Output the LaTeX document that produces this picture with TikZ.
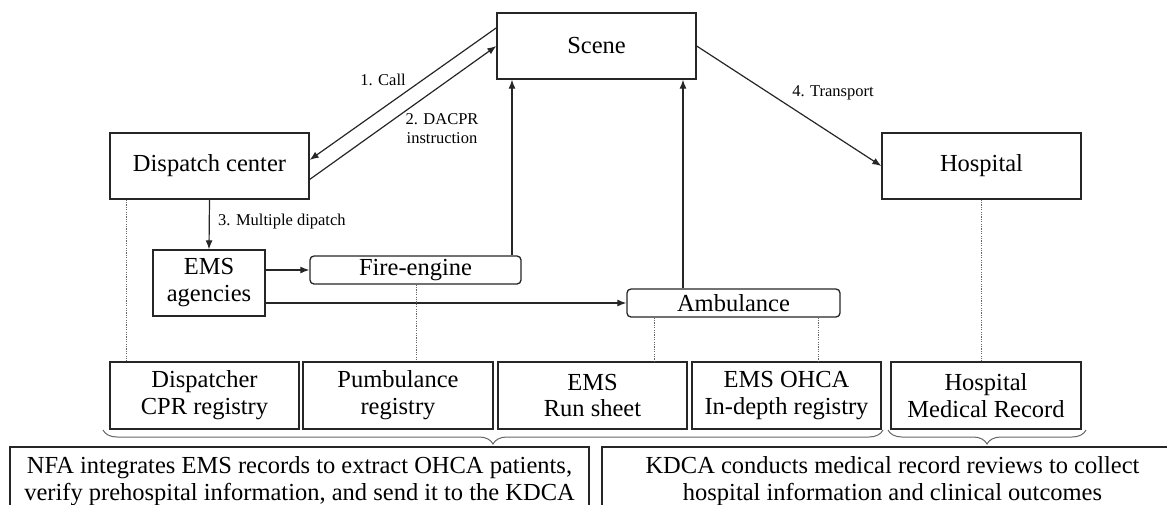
\documentclass[tikz,border=0pt]{standalone}
\usepackage{fontspec}
\setmainfont{Liberation Serif}
\usetikzlibrary{arrows.meta,calc,decorations.pathreplacing}
\begin{document}
\begin{tikzpicture}[x=1pt,y=-1pt,
  box/.style={draw=black!85, line width=1.3pt, fill=white, inner sep=0pt, align=center, font=\fontsize{24.5}{27}\selectfont},
  rbox/.style={box, rounded corners=4pt},
  arr/.style={line width=1.2pt, draw=black!85, -{Latex[length=9pt,width=7pt]}},
  dots/.style={line width=0.8pt, draw=black!60, dash pattern=on 1.2pt off 1.2pt},
  lbl/.style={font=\fontsize{16.5}{19}\selectfont, align=center, inner sep=0pt},
  brc/.style={draw=black!60, line width=1pt, decorate, decoration={brace, mirror, amplitude=14pt}},
]
\useasboundingbox (0,0) rectangle (1167,504);
\clip (0,0) rectangle (1167,504);

% main boxes
\node[box, minimum width=199pt, minimum height=66pt] (scene) at (596.5,46) {Scene};
\node[box, minimum width=199pt, minimum height=66pt] (dispatch) at (209.5,166) {Dispatch center};
\node[box, minimum width=199pt, minimum height=66pt] (hospital) at (981.5,166) {Hospital};
\node[box, minimum width=112pt, minimum height=66pt] (ems) at (209,283) {EMS\\agencies};
\node[rbox, minimum width=211pt, minimum height=28pt] (fire) at (415.5,270) {Fire-engine};
\node[rbox, minimum width=213pt, minimum height=28pt] (amb) at (733.5,303) {Ambulance};

% registries
\node[box, minimum width=189pt, minimum height=67pt] (disp) at (204.5,395.5) {Dispatcher\\CPR registry};
\node[box, minimum width=190pt, minimum height=67pt] (pumb) at (398,395.5) {Pumbulance\\registry};
\node[box, minimum width=189pt, minimum height=67pt] (run) at (592.5,395.5) {EMS\\Run sheet};
\node[box, minimum width=189pt, minimum height=67pt] (ohca) at (786.5,395.5) {EMS OHCA\\In-depth registry};
\node[box, minimum width=190pt, minimum height=67pt] (hmr) at (986,395.5) {Hospital\\Medical Record};

% bottom boxes
\node[box, minimum width=579pt, minimum height=69pt] (nfa) at (299.5,481.5) {NFA integrates EMS records to extract OHCA patients,\\verify prehospital information, and send it to the KDCA};
\node[box, minimum width=581pt, minimum height=69pt] (kdca) at (892.5,481.5) {KDCA conducts medical record reviews to collect\\hospital information and clinical outcomes};

% arrows
\draw[arr] ($(scene.north west)!0.23!(scene.south west)$) -- ($(dispatch.north east)!0.41!(dispatch.south east)$);
\draw[arr] ($(dispatch.north east)!0.70!(dispatch.south east)$) -- (scene.west);
\draw[arr] (scene.east) -- (hospital.west);
\draw[arr] (dispatch.south) -- (ems.north);
\draw[arr] (ems.east |- fire.west) -- (fire.west);
\draw[arr] (ems.east |- amb.west) -- (amb.west);
\coordinate (fx) at (512,0);
\coordinate (ax) at (683,0);
\draw[arr] (fire.north -| fx) -- (scene.south -| fx);
\draw[arr] (amb.north -| ax) -- (scene.south -| ax);

% dotted links
\coordinate (d1) at (126,0);
\coordinate (d2) at (416,0);
\coordinate (d3) at (654,0);
\coordinate (d4) at (818,0);
\draw[dots] (dispatch.south -| d1) -- (disp.north -| d1);
\draw[dots] (fire.south -| d2) -- (pumb.north -| d2);
\draw[dots] (amb.south -| d3) -- (run.north -| d3);
\draw[dots] (amb.south -| d4) -- (ohca.north -| d4);
\draw[dots] (hospital.south) -- (hospital.south |- hmr.north);

% labels
\node[lbl] (l1) at (383,80) {1. Call};
\node[lbl] (l2) at (442,129) {2. DACPR\\instruction};
\node[lbl, anchor=west] (l3) at (218,222) {3. Multiple dipatch};
\node[lbl] (l4) at (833,93) {4. Transport};

% braces
\coordinate (b1) at (103,430);
\coordinate (b2) at (883,430);
\coordinate (b3) at (888,430);
\coordinate (b4) at (1086,430);
\draw[brc] (b1) -- (b2);
\draw[brc] (b3) -- (b4);
\end{tikzpicture}
\end{document}
